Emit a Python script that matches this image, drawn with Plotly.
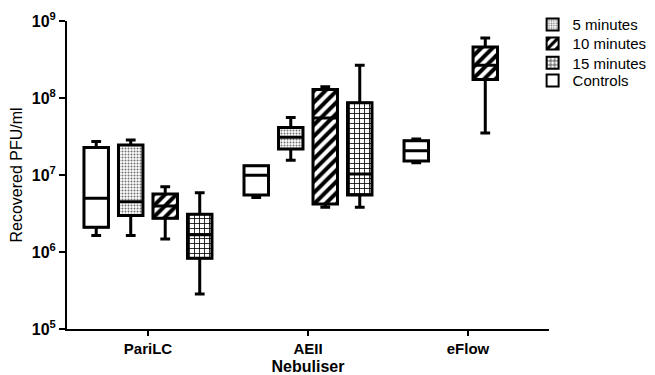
import plotly.graph_objects as go

# ---- data ----
categories = ["PariLC", "AEII", "eFlow"]
series_names = ["Controls", "5 minutes", "10 minutes", "15 minutes"]

# per series: values for PariLC, AEII, eFlow (None = not measured)
lower = {
    "Controls":   [1.64e6, 5.1e6, 1.44e7],
    "5 minutes":  [1.64e6, 1.56e7, None],
    "10 minutes": [1.47e6, 3.8e6, 3.5e7],
    "15 minutes": [2.85e5, 3.8e6, None],
}
q1 = {
    "Controls":   [2.1e6, 5.5e6, 1.52e7],
    "5 minutes":  [2.97e6, 2.17e7, None],
    "10 minutes": [2.75e6, 4.2e6, 1.74e8],
    "15 minutes": [8.3e5, 5.5e6, None],
}
median = {
    "Controls":   [5.0e6, 9.9e6, 2.07e7],
    "5 minutes":  [4.5e6, 3.1e7, None],
    "10 minutes": [3.97e6, 5.5e7, 2.67e8],
    "15 minutes": [1.67e6, 1.03e7, None],
}
q3 = {
    "Controls":   [2.27e7, 1.32e7, 2.79e7],
    "5 minutes":  [2.45e7, 4.15e7, None],
    "10 minutes": [5.67e6, 1.29e8, 4.6e8],
    "15 minutes": [3.1e6, 8.65e7, None],
}
upper = {
    "Controls":   [2.72e7, 1.32e7, 2.93e7],
    "5 minutes":  [2.84e7, 5.6e7, None],
    "10 minutes": [7.05e6, 1.40e8, 6.0e8],
    "15 minutes": [5.9e6, 2.67e8, None],
}
legend_order = ["5 minutes", "10 minutes", "15 minutes", "Controls"]
y_tickvals = [1e5, 1e6, 1e7, 1e8, 1e9]
y_ticktext = ["10<sup>5</sup>", "10<sup>6</sup>", "10<sup>7</sup>", "10<sup>8</sup>", "10<sup>9</sup>"]

# ---- styling ----
slot = 0.2156          # spacing between boxes inside a group
box_w = 0.153          # box width in x units
offsets = {"Controls": -1.5, "5 minutes": -0.5, "10 minutes": 0.5, "15 minutes": 1.5}
patterns = {
    "Controls":   dict(shape=""),
    "5 minutes":  dict(shape=".", fgcolor="#707070", bgcolor="white", size=3,
                       solidity=0.35, fgopacity=1),
    "10 minutes": dict(shape="/", fgcolor="black", bgcolor="white", size=8,
                       solidity=0.5, fgopacity=1),
    "15 minutes": dict(shape="+", fgcolor="black", bgcolor="white", size=5,
                       solidity=0.3, fgopacity=1),
}
legend_ids = ["legend", "legend2", "legend3", "legend4"]
legend_y = [0.988, 0.926, 0.8635, 0.806]

def present(name):
    idx = [i for i in range(len(categories)) if median[name][i] is not None]
    xs = [i + offsets[name] * slot for i in idx]
    return idx, xs

fig = go.Figure()

# patterned fills (bars from q1 to q3) -> also provide the legend swatches
for k, name in enumerate(legend_order):
    idx, xs = present(name)
    fig.add_trace(go.Bar(
        x=xs,
        base=[q1[name][i] for i in idx],
        y=[q3[name][i] - q1[name][i] for i in idx],
        width=box_w,
        name=name,
        legend=legend_ids[k],
        opacity=1,
        marker=dict(color="white", opacity=1, line=dict(color="black", width=2),
                    pattern=patterns[name]),
        showlegend=True,
        hoverinfo="skip",
    ))

# box outlines, medians and whiskers
for name in series_names:
    idx, xs = present(name)
    fig.add_trace(go.Box(
        x=xs,
        q1=[q1[name][i] for i in idx],
        median=[median[name][i] for i in idx],
        q3=[q3[name][i] for i in idx],
        lowerfence=[lower[name][i] for i in idx],
        upperfence=[upper[name][i] for i in idx],
        width=box_w,
        whiskerwidth=0.4,
        line=dict(color="black", width=3),
        fillcolor="rgba(0,0,0,0)",
        boxpoints=False,
        showlegend=False,
        hoverinfo="skip",
    ))

legend_common = dict(x=0.966, xanchor="left", yanchor="middle",
                     font=dict(size=15), bgcolor="rgba(0,0,0,0)")
layout_legends = {lid: dict(legend_common, y=ly) for lid, ly in zip(legend_ids, legend_y)}

# the page body adds an 8px margin, so the figure is 8px smaller than the window
fig.update_layout(
    width=647, height=367,
    margin=dict(l=59, r=106, t=13, b=46, autoexpand=False),
    paper_bgcolor="white", plot_bgcolor="white",
    barmode="overlay", boxmode="overlay",
    font=dict(family="Liberation Sans, Arial, sans-serif", color="black"),
    **layout_legends,
)
fig.update_xaxes(
    range=[-0.506, 2.506],
    tickvals=list(range(len(categories))), ticktext=categories,
    showgrid=False, zeroline=False,
    showline=True, linecolor="black", linewidth=2,
    ticks="outside", ticklen=5, tickwidth=2, tickcolor="black",
    tickfont=dict(size=15, weight="bold"),
    title=dict(text="Nebuliser", font=dict(size=16, weight="bold"), standoff=5),
)
fig.update_yaxes(
    type="log", range=[5, 9],
    tickvals=y_tickvals, ticktext=y_ticktext,
    showgrid=False, zeroline=False,
    showline=True, linecolor="black", linewidth=2,
    ticks="outside", ticklen=6, tickwidth=2, tickcolor="black",
    tickfont=dict(size=16, weight="bold"),
    title=dict(text="Recovered PFU/ml", font=dict(size=16), standoff=5),
)

fig.write_html("out.html")
